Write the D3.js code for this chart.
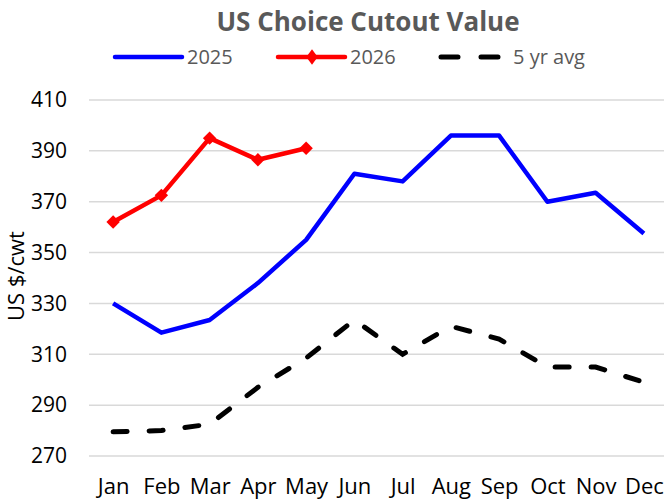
<!DOCTYPE html>
<html>
<head>
<meta charset="utf-8">
<script src="https://cdn.jsdelivr.net/npm/d3@7"></script>
<style>
  body { margin: 0; background: #fff; }
  text { font-family: "Open Sans", sans-serif; }
</style>
</head>
<body>
<div id="chart"></div>
<script>
// chart data
const months = ['Jan', 'Feb', 'Mar', 'Apr', 'May', 'Jun', 'Jul', 'Aug', 'Sep', 'Oct', 'Nov', 'Dec'];
const values2025 = [330, 318.5, 323.5, 338, 355, 381, 378, 396, 396, 370, 373.5, 357.5];
const values2026 = [362, 372.5, 395, 386.5, 391];
const avg5yr = [279.5, 280, 282.5, 297, 308.5, 323.5, 310, 321, 316, 305, 305, 299];
const yTicks = [270, 290, 310, 330, 350, 370, 390, 410];

const width = 664, height = 500;
const margin = { top: 100, right: -4, bottom: 44, left: 89 };

const svg = d3.select('#chart').append('svg')
  .attr('width', width)
  .attr('height', height);

const x = d3.scalePoint()
  .domain(months)
  .range([margin.left, width - margin.right])
  .padding(0.5);

const y = d3.scaleLinear()
  .domain([270, 410])
  .range([height - margin.bottom, margin.top]);

// gridlines
svg.append('g')
  .selectAll('line')
  .data(yTicks)
  .join('line')
  .attr('x1', margin.left)
  .attr('x2', width)
  .attr('y1', d => y(d))
  .attr('y2', d => y(d))
  .attr('stroke', '#d9d9d9')
  .attr('stroke-width', 1.5);

// y axis labels
const yAxis = svg.append('g')
  .attr('transform', `translate(${margin.left},0)`)
  .call(d3.axisLeft(y).tickValues(yTicks).tickSize(0).tickPadding(22));
yAxis.select('.domain').remove();
yAxis.selectAll('text')
  .attr('font-family', '"Open Sans", sans-serif')
  .attr('font-size', 21)
  .attr('fill', '#000');

// x axis labels
const xAxis = svg.append('g')
  .attr('transform', `translate(0,${height - margin.bottom})`)
  .call(d3.axisBottom(x).tickSize(0));
xAxis.select('.domain').remove();
xAxis.selectAll('text')
  .attr('font-family', '"Open Sans", sans-serif')
  .attr('font-size', 22)
  .attr('fill', '#000')
  .attr('dy', 0)
  .attr('y', 38);

// y axis title
svg.append('text')
  .attr('transform', 'translate(24,276) rotate(-90)')
  .attr('text-anchor', 'middle')
  .attr('font-size', 22)
  .attr('fill', '#000')
  .text('US $/cwt');

// title
svg.append('text')
  .attr('x', 368)
  .attr('y', 31)
  .attr('text-anchor', 'middle')
  .attr('font-size', 26)
  .attr('font-weight', 'bold')
  .attr('fill', '#595959')
  .text('US Choice Cutout Value');

const line = d3.line()
  .x((d, i) => x(months[i]))
  .y(d => y(d));

// 5 yr avg
svg.append('path')
  .datum(avg5yr)
  .attr('d', line)
  .attr('fill', 'none')
  .attr('stroke', '#000')
  .attr('stroke-width', 5)
  .attr('stroke-linecap', 'round')
  .attr('stroke-dasharray', '14,22');

// 2025
svg.append('path')
  .datum(values2025)
  .attr('d', line)
  .attr('fill', 'none')
  .attr('stroke', '#0000ff')
  .attr('stroke-width', 4.5)
  .attr('stroke-linejoin', 'round');

// 2026
svg.append('path')
  .datum(values2026)
  .attr('d', line)
  .attr('fill', 'none')
  .attr('stroke', '#ff0000')
  .attr('stroke-width', 4.5)
  .attr('stroke-linejoin', 'round');

// diamond markers (square turned 45 degrees)
const diamond = d3.symbol().type(d3.symbolSquare).size(90);
svg.append('g')
  .selectAll('path')
  .data(values2026)
  .join('path')
  .attr('d', diamond)
  .attr('transform', (d, i) => `translate(${x(months[i])},${y(d)}) rotate(45)`)
  .attr('fill', '#ff0000');

// legend
const legend = svg.append('g').attr('transform', 'translate(0,57)');
legend.append('line')
  .attr('x1', 115).attr('x2', 182).attr('y1', 0).attr('y2', 0)
  .attr('stroke', '#0000ff').attr('stroke-width', 4.5).attr('stroke-linecap', 'round');
legend.append('text')
  .attr('x', 187).attr('y', 7).attr('font-size', 20).attr('fill', '#595959').text('2025');

legend.append('line')
  .attr('x1', 278).attr('x2', 345).attr('y1', 0).attr('y2', 0)
  .attr('stroke', '#ff0000').attr('stroke-width', 4.5).attr('stroke-linecap', 'round');
legend.append('path')
  .attr('d', diamond)
  .attr('transform', 'translate(312,0) scale(0.85,1.15) rotate(45)')
  .attr('fill', '#ff0000');
legend.append('text')
  .attr('x', 350).attr('y', 7).attr('font-size', 20).attr('fill', '#595959').text('2026');

legend.append('line')
  .attr('x1', 441).attr('x2', 508).attr('y1', 0).attr('y2', 0)
  .attr('stroke', '#000').attr('stroke-width', 5).attr('stroke-linecap', 'round')
  .attr('stroke-dasharray', '17,23');
legend.append('text')
  .attr('x', 513).attr('y', 7).attr('font-size', 20).attr('fill', '#595959').text('5 yr avg');
</script>
</body>
</html>
